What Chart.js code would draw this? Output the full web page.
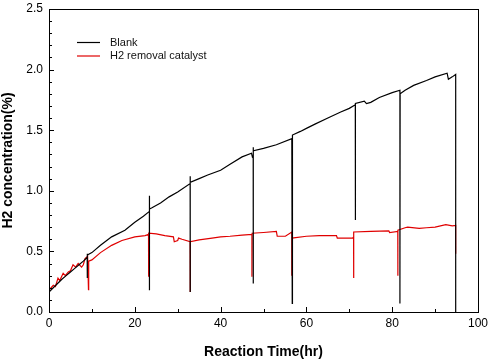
<!DOCTYPE html>
<html>
<head>
<meta charset="utf-8">
<script src="https://cdn.jsdelivr.net/npm/chart.js@4"></script>
<style>
  html, body { margin: 0; padding: 0; background: #fff; }
  #wrap { width: 490px; height: 363px; }
</style>
</head>
<body>
<div id="wrap"><canvas id="h2Chart" width="490" height="363"></canvas></div>
<script>
// Blank run (x = hours, y = %)
const blankX = [0, 1, 2, 3, 4, 5, 6, 7, 8, 8.9, 8.9, 8.9, 9.0, 10, 12, 14.6, 17.7, 20, 22, 23.4, 23.4, 23.4, 23.45, 24, 26, 28, 30,
  32.9, 32.9, 32.9, 32.95, 35, 37, 40, 42.2, 45, 47.2, 47.4, 47.6, 47.6, 47.6, 47.65, 50, 53, 56.6, 56.7, 56.75, 58.6, 60, 62, 65,
  68, 70, 71.4, 71.4, 71.45, 73.5, 74.0, 75, 77, 80, 81.8, 81.8, 81.85, 83, 85, 88, 90, 92.8, 93.1, 94.0, 94.8, 94.8];
const blankY = [0.165, 0.20, 0.235, 0.27, 0.30, 0.33, 0.36, 0.39, 0.42, 0.45, 0.28, 0.48, 0.47, 0.49, 0.55, 0.62, 0.675, 0.74, 0.79, 0.83, 0.96, 0.18, 0.85, 0.86, 0.90, 0.95, 0.99,
  1.06, 1.12, 0.165, 1.07, 1.10, 1.13, 1.17, 1.22, 1.28, 1.31, 1.28, 1.29, 1.36, 0.235, 1.33, 1.35, 1.38, 1.43, 0.07, 1.46, 1.49, 1.515, 1.55, 1.60,
  1.65, 1.68, 1.71, 0.76, 1.72, 1.74, 1.72, 1.73, 1.77, 1.81, 1.83, 0.07, 1.80, 1.83, 1.87, 1.91, 1.94, 1.97, 1.92, 1.94, 1.96, 0.0];

// H2 removal catalyst run
const catX = [0, 0.5, 1.0, 1.5, 2.1, 2.5, 3.3, 3.8, 4.5, 5.0, 5.6, 6.2, 6.8, 7.6, 8.0, 8.4, 9.0, 9.2, 9.25, 10, 12, 14.6, 17, 20, 22.4,
  23.2, 23.2, 23.25, 25, 27, 29, 29.2, 30.0, 30.2, 31, 32.9, 32.9, 32.95, 35, 38, 40, 42.2, 45, 47.3, 47.3, 47.35, 50, 53.0, 53.2,
  55.1, 56.6, 56.6, 56.65, 60, 63, 67.0, 67.2, 70.8, 71.0, 71.0, 71.05, 75, 79.2, 79.4, 81.3, 81.3, 81.35, 83, 83.6, 86.3, 88, 90,
  92.5, 94.0, 94.8, 94.8];
const catY = [0.18, 0.20, 0.22, 0.21, 0.28, 0.26, 0.32, 0.30, 0.33, 0.34, 0.39, 0.37, 0.40, 0.37, 0.39, 0.44, 0.46, 0.185, 0.42, 0.43, 0.49, 0.55, 0.59, 0.62, 0.63,
  0.64, 0.29, 0.65, 0.645, 0.63, 0.62, 0.58, 0.59, 0.61, 0.60, 0.58, 0.165, 0.58, 0.595, 0.61, 0.62, 0.625, 0.635, 0.64, 0.29, 0.65, 0.656, 0.665, 0.625,
  0.625, 0.66, 0.30, 0.61, 0.625, 0.63, 0.63, 0.61, 0.61, 0.62, 0.28, 0.66, 0.665, 0.67, 0.655, 0.665, 0.30, 0.675, 0.695, 0.70, 0.69, 0.695, 0.70,
  0.72, 0.71, 0.715, 0.48];

const xMajor = [0, 20, 40, 60, 80, 100];
const xMinor = [10, 30, 50, 70, 90];
const yMajor = [0, 0.5, 1.0, 1.5, 2.0, 2.5];
const yMinor = [0.1, 0.2, 0.3, 0.4, 0.6, 0.7, 0.8, 0.9, 1.1, 1.2, 1.3, 1.4, 1.6, 1.7, 1.8, 1.9, 2.1, 2.2, 2.3, 2.4];

const FONT = "Arial, 'Liberation Sans', sans-serif";

function toPoints(xs, ys) {
  return xs.map((x, i) => ({ x: x, y: ys[i] }));
}

// frame + inward tick marks
const framePlugin = {
  id: 'frame',
  afterDraw(chart) {
    const ctx = chart.ctx;
    const a = chart.chartArea;
    const sx = chart.scales.x, sy = chart.scales.y;
    ctx.save();
    ctx.strokeStyle = '#000';
    ctx.lineWidth = 1;
    ctx.strokeRect(a.left + 0.5, a.top + 0.5, a.right - a.left, a.bottom - a.top);
    ctx.beginPath();
    xMajor.forEach(v => { const p = Math.round(sx.getPixelForValue(v)) + 0.5; ctx.moveTo(p, a.bottom); ctx.lineTo(p, a.bottom - 5); });
    xMinor.forEach(v => { const p = Math.round(sx.getPixelForValue(v)) + 0.5; ctx.moveTo(p, a.bottom); ctx.lineTo(p, a.bottom - 3); });
    yMajor.forEach(v => { const p = Math.round(sy.getPixelForValue(v)) + 0.5; ctx.moveTo(a.left, p); ctx.lineTo(a.left + 5, p); });
    yMinor.forEach(v => { const p = Math.round(sy.getPixelForValue(v)) + 0.5; ctx.moveTo(a.left, p); ctx.lineTo(a.left + 3, p); });
    ctx.stroke();
    ctx.restore();
  }
};

// legend in upper left of the plot
const legendPlugin = {
  id: 'innerLegend',
  afterDraw(chart) {
    const ctx = chart.ctx;
    ctx.save();
    ctx.font = '11px ' + FONT;
    ctx.textBaseline = 'middle';
    chart.data.datasets.forEach((ds, i) => {
      const y = 42.5 + i * 13.5;
      ctx.strokeStyle = ds.borderColor;
      ctx.lineWidth = 1.2;
      ctx.beginPath();
      ctx.moveTo(77, y);
      ctx.lineTo(100, y);
      ctx.stroke();
      ctx.fillStyle = '#111';
      ctx.fillText(ds.label, 110, y);
    });
    ctx.restore();
  }
};

new Chart(document.getElementById('h2Chart'), {
  type: 'line',
  data: {
    datasets: [
      { label: 'Blank', data: toPoints(blankX, blankY), borderColor: '#000000', borderWidth: 1.2, pointRadius: 0, tension: 0 },
      { label: 'H2 removal catalyst', data: toPoints(catX, catY), borderColor: '#e00000', borderWidth: 1.2, pointRadius: 0, tension: 0 }
    ]
  },
  options: {
    responsive: false,
    animation: false,
    layout: { padding: { left: 0, right: 12, top: 9, bottom: 0 } },
    plugins: { legend: { display: false }, tooltip: { enabled: false } },
    scales: {
      x: {
        type: 'linear', min: 0, max: 100,
        afterFit: s => { s.height = 51; s.paddingLeft = 0; s.paddingRight = 0; },
        afterBuildTicks: s => { s.ticks = xMajor.map(v => ({ value: v })); },
        grid: { display: false, drawTicks: false },
        border: { display: false },
        ticks: { color: '#000', padding: 4, font: { family: FONT, size: 12 }, maxRotation: 0 },
        title: { display: true, text: 'Reaction Time(hr)', color: '#000', font: { family: FONT, size: 14, weight: 'bold' }, padding: { top: 0, bottom: 2 } }
      },
      y: {
        type: 'linear', min: 0, max: 2.5,
        afterFit: s => { s.width = 49; s.paddingTop = 0; s.paddingBottom = 0; },
        afterBuildTicks: s => { s.ticks = yMajor.map(v => ({ value: v })); },
        grid: { display: false, drawTicks: false },
        border: { display: false },
        ticks: { color: '#000', padding: 6, font: { family: FONT, size: 12 }, callback: v => v.toFixed(1) },
        title: { display: true, text: 'H2 concentration(%)', color: '#000', font: { family: FONT, size: 14, weight: 'bold' }, padding: { top: 0, bottom: 0 } }
      }
    }
  },
  plugins: [framePlugin, legendPlugin]
});
</script>
</body>
</html>
